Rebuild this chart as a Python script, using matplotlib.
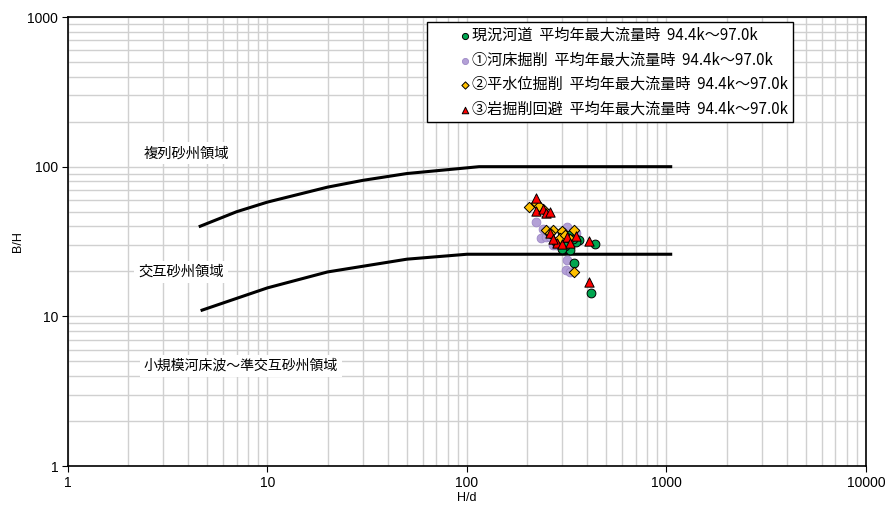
import matplotlib.pyplot as plt
from matplotlib.ticker import LogLocator, FixedLocator, NullFormatter

plt.rcParams['font.family'] = ['Noto Sans CJK JP', 'DejaVu Sans']

# 領域区分線 (H/d, B/H)
upper_x = [4.6, 7, 10, 20, 30, 50, 115, 1050]
upper_y = [40, 50, 58, 73, 81, 90, 100, 100]
lower_x = [4.7, 10, 20, 50, 100, 1050]
lower_y = [11.0, 15.5, 19.8, 24.1, 26, 26]

# 現況河道
genkyo_x = [299, 328, 364, 352, 328, 344, 438, 419, 317, 299, 280, 310, 340, 300]
genkyo_y = [36.6, 34.9, 32.3, 31.4, 27.7, 22.7, 30.4, 14.3, 31.4, 33.5, 31.5, 29.5, 33.0, 28.0]
# ①河床掘削
kasho_x = [222, 240, 235, 249, 270, 317, 317, 314, 328, 292, 260, 300, 280, 350]
kasho_y = [42.7, 38.3, 33.4, 33.9, 29.9, 39.5, 23.8, 20.4, 19.8, 31.4, 34.0, 34.0, 30.0, 36.0]
# ②平水位掘削
heisui_x = [205, 222, 240, 249, 270, 299, 344, 282, 292, 344, 260, 310, 230, 330]
heisui_y = [53.7, 57.0, 52.0, 37.7, 37.7, 37.2, 37.7, 31.4, 33.4, 19.8, 36.0, 35.0, 55.0, 33.0]
# ③岩掘削回避
iwa_x = [222, 222, 240, 249, 261, 261, 282, 299, 317, 328, 352, 409, 409, 270]
iwa_y = [61.7, 50.5, 52.0, 49.0, 49.8, 36.0, 30.9, 30.4, 33.9, 30.9, 34.4, 31.8, 16.9, 33.0]

labels = ['現況河道  平均年最大流量時  94.4k～97.0k',
          '①河床掘削  平均年最大流量時  94.4k～97.0k',
          '②平水位掘削  平均年最大流量時  94.4k～97.0k',
          '③岩掘削回避  平均年最大流量時  94.4k～97.0k']

fig = plt.figure(figsize=(8.85, 5.05), dpi=100)
ax = fig.add_axes([0.0768, 0.0772, 0.9017, 0.8891])
ax.set_xscale('log')
ax.set_yscale('log')
ax.set_xlim(1, 10000)
ax.set_ylim(1, 1000)

ax.xaxis.set_major_locator(FixedLocator([1, 10, 100, 1000, 10000]))
ax.yaxis.set_major_locator(FixedLocator([1, 10, 100, 1000]))
ax.set_xticklabels(['1', '10', '100', '1000', '10000'], family='Liberation Sans')
ax.set_yticklabels(['1', '10', '100', '1000'], family='Liberation Sans')
for a in (ax.xaxis, ax.yaxis):
    a.set_minor_locator(LogLocator(base=10, subs=range(2, 10), numticks=20))
    a.set_minor_formatter(NullFormatter())
ax.grid(True, which='both', color='#d0d0d0', linewidth=1.0)
ax.set_axisbelow(True)
ax.tick_params(which='major', direction='out', length=4, labelsize=10, pad=3)
ax.tick_params(which='minor', length=0)
for s in ax.spines.values():
    s.set_linewidth(1.2)
    s.set_color('black')

ax.plot(upper_x, upper_y, color='black', linewidth=2.2, zorder=3)
ax.plot(lower_x, lower_y, color='black', linewidth=2.2, zorder=3)

h1 = ax.scatter(kasho_x, kasho_y, s=40, marker='o', color='#b3a0d6', edgecolors='#9d88c6',
                linewidths=0.6, zorder=4)
h0 = ax.scatter(genkyo_x, genkyo_y, s=40, marker='o', color='#00a650', edgecolors='black',
                linewidths=0.7, zorder=5)
h2 = ax.scatter(heisui_x, heisui_y, s=28, marker='D', color='#ffc000', edgecolors='black',
                linewidths=0.7, zorder=6)
h3 = ax.scatter(iwa_x, iwa_y, s=45, marker='^', color='#ff0000', edgecolors='black',
                linewidths=0.7, zorder=7)

leg = ax.legend([h0, h1, h2, h3], labels,
                loc='upper left', bbox_to_anchor=(0.4497, 0.988), fontsize=10.9,
                frameon=True, fancybox=False, edgecolor='black', framealpha=1,
                handlelength=4.4, handletextpad=-1.7, borderpad=0.3, labelspacing=0.5,
                markerscale=0.7, borderaxespad=0)
leg.get_frame().set_linewidth(1.0)

box = dict(facecolor='white', edgecolor='none', pad=3)
ax.text(2.4, 123, '複列砂州領域', fontsize=10.3, va='center', ha='left', bbox=box, zorder=3)
ax.text(2.25, 19.8, '交互砂州領域', fontsize=10.3, va='center', ha='left', bbox=box, zorder=3)
ax.text(2.4, 4.66, '小規模河床波～準交互砂州領域', fontsize=10, va='center', ha='left',
        bbox=box, zorder=3)

ax.set_xlabel('H/d', fontsize=9, family='Liberation Sans')
ax.set_ylabel('B/H', fontsize=9, family='Liberation Sans')
ax.xaxis.set_label_coords(0.5, -0.058)
ax.yaxis.set_label_coords(-0.055, 0.5)

fig.savefig('out.png', dpi=100)
